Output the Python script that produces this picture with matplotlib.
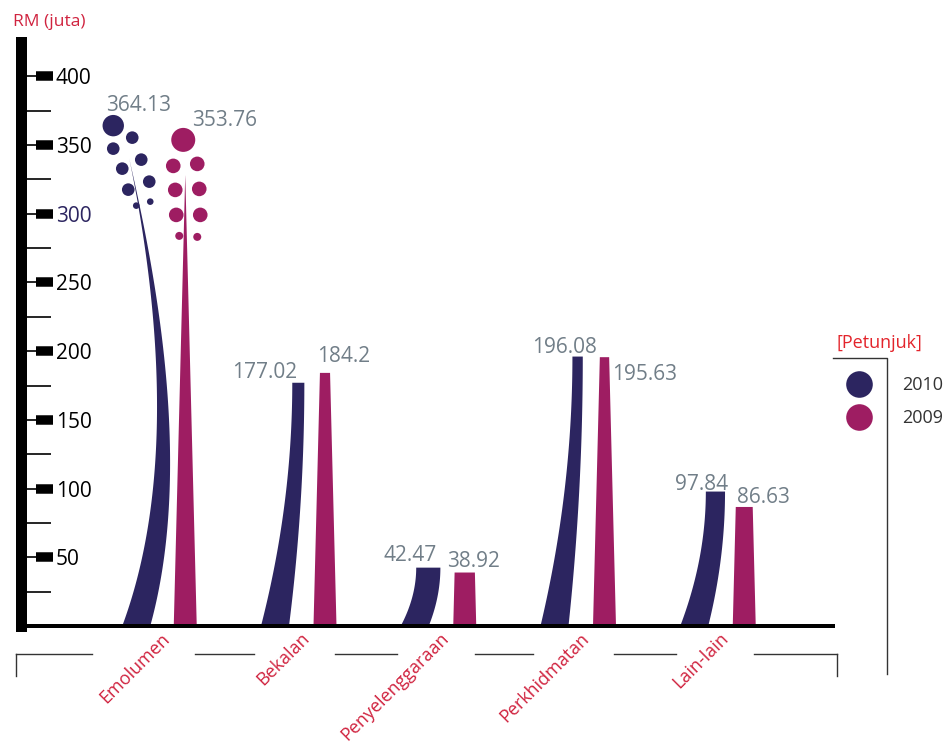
"""Carta perbelanjaan mengurus 2010 berbanding 2009 (RM juta)."""

import numpy as np
import matplotlib.pyplot as plt
from matplotlib.lines import Line2D

plt.rcParams['font.family'] = ['Open Sans', 'DejaVu Sans']

# --- data ---
kategori = ['Emolumen', 'Bekalan', 'Penyelenggaraan', 'Perkhidmatan', 'Lain-lain']
nilai_2010 = [364.13, 177.02, 42.47, 196.08, 97.84]
nilai_2009 = [353.76, 184.2, 38.92, 195.63, 86.63]
label_2010 = ['364.13', '177.02', '42.47', '196.08', '97.84']
label_2009 = ['353.76', '184.2', '38.92', '195.63', '86.63']
tahun = ['2010', '2009']
tick_y = [50, 100, 150, 200, 250, 300, 350, 400]

# --- gaya ---
NAVY = '#2c2560'
MAGENTA = '#9e1d62'
GREY = '#717e88'
RED = '#d0233f'
RED2 = '#e3242b'
DARK = '#333333'

W, H = 951, 748
# kedudukan label nilai (piksel: dx dari pusat kategori, dy di atas nilai)
ofset_2010 = [(-22, 15), (-35, 5), (-30, 7), (-15, 4), (-18, 2)]
ofset_2009 = [(64, 14), (44, 11), (34, 6), (65, -23), (44, 4)]
# kategori pertama dilukis sebagai "bunga" (tangkai + titik)
bunga = [True, False, False, False, False]
# titik hiasan (dx, dy ke bawah, jejari) relatif kepada titik besar
titik_2010 = [(0, 0, 10.7), (19, 12, 6.3), (0, 23, 6.3), (28, 34, 6.3), (9, 43, 6.3),
              (36, 56, 6.3), (15, 64, 6.3), (37, 76, 3.3), (23, 80, 3.3)]
titik_2009 = [(0, 0, 12), (-10, 26, 7.3), (14, 24, 7.3), (-8, 50, 7.3), (16, 49, 7.3),
              (-7, 75, 7.3), (17, 75, 7.3), (-4, 96, 4), (14, 97, 4)]
gap_kiri = [-68, -46, -43, -46, -43]

fig = plt.figure(figsize=(W / 100, H / 100), dpi=100)
ax = fig.add_axes([20.5 / W, (H - 626) / H, (833 - 20.5) / W, (626 - 42) / H])
ax.set_xlim(-1.0, 4.814)
ax.set_ylim(0, 425)

PX_X = (833 - 20.5) / (4.814 + 1.0)   # piksel per unit x
PX_Y = (626 - 42) / 425.0             # piksel per unit y


def batang_2010(i, v):
    """Batang melengkung untuk tahun 2010."""
    t = np.linspace(0, 1, 80)
    prof = 2 * t - t ** 2
    s = 34 * (1 - np.exp(-v / 70))
    wt = 28 - 0.09 * v
    kiri = i + (-39 + s * prof) / PX_X
    kanan = i + (-11 + (s + wt - 28) * prof) / PX_X
    y = t * v
    ax.fill(np.r_[kiri, kanan[::-1]], np.r_[y, y[::-1]], color=NAVY, lw=0, zorder=2)


def tangkai_2010(i, puncak):
    """Tangkai melengkung yang tirus (kategori bunga)."""
    t = np.linspace(0, 1, 150)
    tip = puncak * PX_Y
    p0, p1, p2 = (-24, 0), (33, 0.377 * tip), (-31, tip)
    bx = (1 - t) ** 2 * p0[0] + 2 * t * (1 - t) * p1[0] + t ** 2 * p2[0]
    by = (1 - t) ** 2 * p0[1] + 2 * t * (1 - t) * p1[1] + t ** 2 * p2[1]
    w = 28 * (1 - t) ** 1.2
    kiri = i + (bx - w / 2) / PX_X
    kanan = i + (bx + w / 2) / PX_X
    y = by / PX_Y
    ax.fill(np.r_[kiri, kanan[::-1]], np.r_[y, y[::-1]], color=NAVY, lw=0, zorder=2)


def batang_2009(i, puncak):
    """Batang tirus (trapezium) untuk tahun 2009."""
    wb = 23
    wt = max(23 - 0.07 * puncak, 0)
    cx = 25
    xs = [i + (cx - wb / 2) / PX_X, i + (cx - wt / 2) / PX_X,
          i + (cx + wt / 2) / PX_X, i + (cx + wb / 2) / PX_X]
    ys = [0, puncak, puncak, 0]
    ax.fill(xs, ys, color=MAGENTA, lw=0, zorder=2)


def titik(i, v, dx0, senarai, warna):
    """Titik-titik hiasan di atas tangkai."""
    xs = [i + (dx0 + dx) / PX_X for dx, dy, r in senarai]
    ys = [v - dy / PX_Y for dx, dy, r in senarai]
    ss = [(1.44 * r) ** 2 for dx, dy, r in senarai]
    ax.scatter(xs, ys, s=ss, color=warna, lw=0, zorder=3, clip_on=False)


for i, (v10, v09) in enumerate(zip(nilai_2010, nilai_2009)):
    if bunga[i]:
        tangkai_2010(i, v10 - 24)
        batang_2009(i, v09 - 26)
        titik(i, v10, -47, titik_2010, NAVY)
        titik(i, v09, 23, titik_2009, MAGENTA)
    else:
        batang_2010(i, v10)
        batang_2009(i, v09)

    ax.annotate(label_2010[i], xy=(i, v10), xytext=ofset_2010[i], textcoords='offset pixels',
                ha='center', va='baseline', color=GREY, fontsize=15, zorder=4)
    ax.annotate(label_2009[i], xy=(i, v09), xytext=ofset_2009[i], textcoords='offset pixels',
                ha='center', va='baseline', color=GREY, fontsize=15, zorder=4)

# paksi
for side in ['top', 'right']:
    ax.spines[side].set_visible(False)
ax.spines['left'].set_linewidth(11 * 0.72)
ax.spines['bottom'].set_linewidth(4 * 0.72)
ax.spines['left'].set_zorder(5)
ax.spines['bottom'].set_zorder(5)

ax.set_yticks(tick_y)
ax.set_yticklabels([str(v) for v in tick_y])
ax.tick_params(axis='y', length=0, pad=-35.5 * 0.72, labelsize=15, labelcolor='black')
for lab in ax.get_yticklabels():
    lab.set_horizontalalignment('left')
    if lab.get_text() == '300':
        lab.set_color(NAVY)

# tanda tick: garis nipis setiap 25, blok tebal pada tick utama
ytr = ax.get_yaxis_transform()
kecil = np.arange(25, 401, 25)
ax.hlines(kecil, (26 - 20.5) / 812.5, (51 - 20.5) / 812.5, transform=ytr,
          color='black', lw=1.2, clip_on=False, zorder=5)
ax.hlines(tick_y, (36 - 20.5) / 812.5, (53 - 20.5) / 812.5, transform=ytr,
          color='black', lw=9.5 * 0.72, capstyle='butt', clip_on=False, zorder=5)

ax.set_xticks(range(len(kategori)))
ax.set_xticklabels(kategori, rotation=45, ha='right', va='top', rotation_mode='anchor',
                   color=RED, fontsize=13)
ax.tick_params(axis='x', length=0, pad=2.5)

# garis pendakap di bawah label kategori
xtr = ax.get_xaxis_transform()
yb = (626 - 654) / 584
yb2 = (626 - 676) / 584
kiri_hujung = (16 - 160.3) / PX_X
kanan_hujung = (837 - 160.3) / PX_X
mula = kiri_hujung
for i in range(len(kategori)):
    akhir = i + gap_kiri[i] / PX_X
    ax.plot([mula, akhir], [yb, yb], transform=xtr, color=DARK, lw=1, clip_on=False)
    mula = i + 35 / PX_X
ax.plot([mula, kanan_hujung], [yb, yb], transform=xtr, color=DARK, lw=1, clip_on=False)
ax.plot([kiri_hujung, kiri_hujung], [yb, yb2], transform=xtr, color=DARK, lw=1, clip_on=False)
ax.plot([kanan_hujung, kanan_hujung], [yb, yb2], transform=xtr, color=DARK, lw=1, clip_on=False)

# tajuk paksi
fig.text(13 / W, 1 - 22 / H, 'RM (juta)', color=RED, fontsize=12.5, va='center', ha='left')

# petunjuk
fig.text(836 / W, 1 - 343 / H, '[Petunjuk]', color=RED2, fontsize=13, va='center', ha='left')
fig.add_artist(Line2D([833 / W, 887 / W, 887 / W], [1 - 358 / H, 1 - 358 / H, 1 - 674 / H],
                      color=DARK, lw=1, transform=fig.transFigure))
pemegang = [Line2D([], [], ls='none', marker='o', ms=26.6 * 0.72, mfc=c, mec='none')
            for c in (NAVY, MAGENTA)]
fig.legend(pemegang, tahun, loc='upper left', bbox_to_anchor=(841 / W, 1 - 376 / H),
           bbox_transform=fig.transFigure, frameon=False, fontsize=13, labelcolor=DARK,
           handlelength=2, handletextpad=1.38, labelspacing=0.83, borderpad=0, borderaxespad=0)

fig.savefig('out.png', dpi=100)
